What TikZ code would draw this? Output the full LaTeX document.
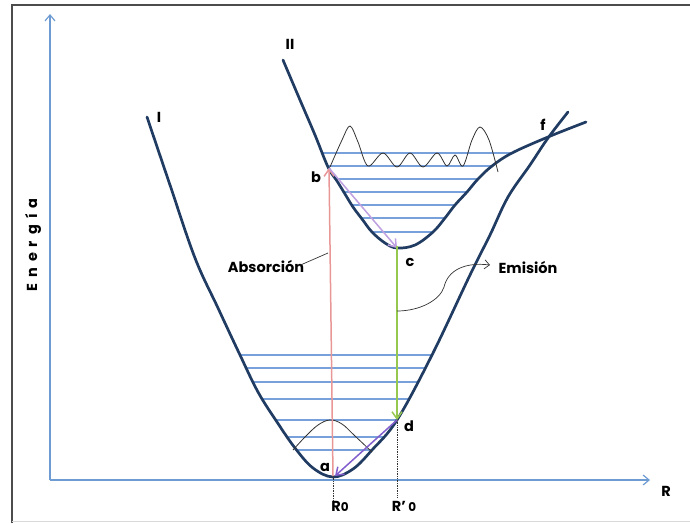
\documentclass[tikz,border=0pt]{standalone}
\usepackage{fontspec}
\setmainfont{Poppins}
\usetikzlibrary{arrows.meta}
\definecolor{curvecol}{RGB}{33,60,98}
\definecolor{levelcol}{RGB}{120,160,218}
\definecolor{axiscol}{RGB}{110,155,210}
\definecolor{pinkcol}{RGB}{232,150,150}
\definecolor{lilaccol}{RGB}{190,160,225}
\definecolor{purplecol}{RGB}{130,95,205}
\definecolor{greencol}{RGB}{150,200,80}
\tikzset{
  potential/.style={draw=curvecol, line width=2.7pt, line cap=round},
  level/.style={draw=levelcol, line width=1.4pt},
  wave/.style={draw=black!80, line width=0.8pt},
  axisline/.style={draw=axiscol, line width=1.2pt, -{Straight Barb[length=6pt,width=10pt]}},
  transition/.style={line width=1.5pt, -{Straight Barb[length=7pt,width=10pt]}},
  lbl/.style={font=\fontsize{14.5}{16}\selectfont\bfseries, inner sep=0pt},
  pointer/.style={draw=black!80, line width=0.7pt},
}
\begin{document}
\begin{tikzpicture}[x=1pt,y=-1pt]
\useasboundingbox (0,0) rectangle (690,523);
% frame
\draw[black!70, line width=1.8pt] (12,523) -- (12,5) -- (690,5);
\draw[black!15, line width=0.8pt] (12,521) -- (690,521);
% axes
\coordinate (O) at (50,480);
\coordinate (Ytop) at (50,14);
\coordinate (Xend) at (650,480);
\draw[axisline] (O) -- (Ytop);
\draw[axisline] (O) -- (Xend);
\node[lbl, rotate=90] (energia) at (33,245) {E\hspace{6pt}n\hspace{6pt}e\hspace{6pt}r\hspace{6pt}g\hspace{6pt}í\hspace{6pt}a};
\node[lbl] (Rlbl) at (666,491) {R};
% vibrational levels, well I
\foreach \y/\xa/\xb in {355/240/433, 368/246/425, 382/253/418, 399/262/408, 420/276/398, 437/287/384, 450/296/372}
  \draw[level] (\xa,\y) -- (\xb,\y);
% vibrational levels, well II
\foreach \y/\xa/\xb in {153/322/512, 166/329/492, 179/336/478, 192/344/467, 205/352/455, 218/361/445, 232/371/433}
  \draw[level] (\xa,\y) -- (\xb,\y);
% potential curve I
\draw[potential] plot[smooth, tension=0.6] coordinates {
 (147,117) (170,185) (195,258) (218,308) (240,355) (258,392) (277,422) (295,448) (313,468) (333,477) (353,469) (372,450) (397,420) (432,355) (470,275) (490,235) (508,197) (530,165) (548,138) (568,112)};
% potential curve II
\draw[potential] plot[smooth, tension=0.6] coordinates {
 (283,60) (300,100) (315,135) (328,167) (337,181) (345,194) (353,207) (362,219) (372,232) (385,243) (397,248) (415,245) (433,232) (445,218) (455,205) (467,192) (478,179) (492,166) (512,153) (548,137) (586,122)};
% wavefunctions
\draw[wave] plot[smooth, tension=0.6] coordinates {(293,450) (305,437) (318,425) (330,420) (342,424) (355,436) (372,452)};
\draw[wave] plot[smooth, tension=0.55] coordinates {
 (330,167) (342,140) (350,126) (358,142) (368,166) (383,153) (397,167) (410,153) (423,167) (437,153) (447,166) (455,155) (463,166) (472,140) (480,127) (489,140) (498,172)};
% key points
\coordinate (a) at (333,476);
\coordinate (b) at (329,168);
\coordinate (c) at (397,248);
\coordinate (d) at (397,420);
\coordinate (f) at (548,137);
\coordinate (aR) at (333,500);
\coordinate (dR) at (397,497);
% dotted guides
\draw[black!80, densely dotted, line width=0.7pt] (a) -- (aR);
\draw[black!80, densely dotted, line width=0.7pt] (d) -- (dR);
% transitions
\draw[transition, draw=pinkcol] (a) -- (b);
\draw[transition, draw=lilaccol] (b) -- (c);
\draw[transition, draw=greencol] ([yshift=2pt]c) -- (d);
\draw[transition, draw=purplecol] (d) -- ([xshift=2pt]a);
% labels
\node[lbl] (lI) at (159,117) {I};
\node[lbl] (lII) at (290,44) {II};
\node[lbl] (lb) at (316,177) {b};
\node[lbl] (lc) at (410,262) {c};
\node[lbl] (ld) at (409,426) {d};
\node[lbl] (la) at (325,467) {a};
\node[lbl] (lf) at (543,125) {f};
\node[lbl] (lR0) at (340,506) {R{\fontsize{12}{13}\selectfont 0}};
\node[lbl] (lR1) at (404,506) {R’\,{\fontsize{12}{13}\selectfont 0}};
\node[lbl] (abs) at (266,267) {Absorción};
\node[lbl] (emi) at (528,268) {Emisión};
% pointers
\coordinate (absP) at (328,253);
\draw[pointer] ([xshift=-6pt,yshift=1pt]abs.east) -- (absP);
\coordinate (emiS) at (397,311);
\coordinate (emiE) at (490,265);
\draw[pointer, -{Straight Barb[length=5pt,width=9pt]}] (emiS) .. controls (420,311) and (440,300) .. (444,287) .. controls (448,270) and (465,262) .. (emiE);
\end{tikzpicture}
\end{document}
